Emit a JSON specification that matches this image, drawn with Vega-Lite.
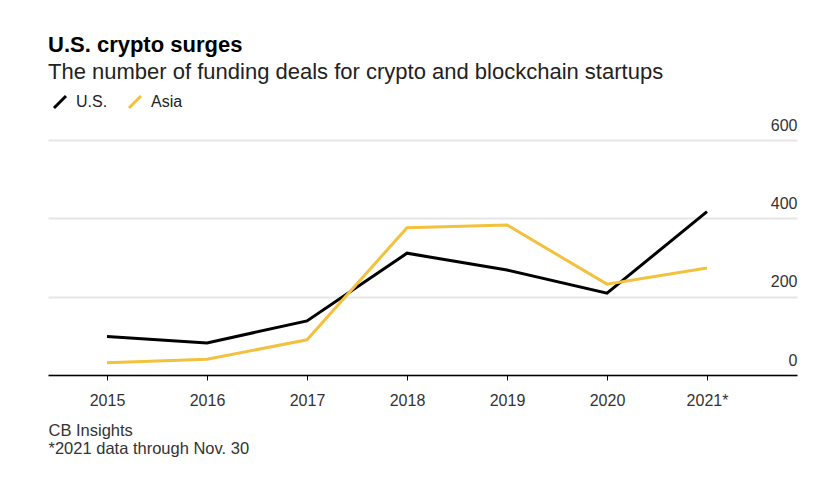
{
  "$schema": "https://vega.github.io/schema/vega-lite/v6.json",
  "width": 749,
  "height": 235,
  "autosize": {"type": "none"},
  "padding": {"left": 48, "top": 140, "right": 35, "bottom": 103},
  "background": "white",
  "title": {
    "text": "U.S. crypto surges",
    "subtitle": "The number of funding deals for crypto and blockchain startups",
    "anchor": "start",
    "frame": "group",
    "font": "Liberation Sans",
    "fontSize": 22,
    "fontWeight": "bold",
    "color": "#000000",
    "subtitleFont": "Liberation Sans",
    "subtitleFontSize": 22,
    "subtitleColor": "#222222",
    "subtitlePadding": 5,
    "offset": 10
  },
  "config": {
    "view": {"stroke": null},
    "font": "Liberation Sans"
  },
  "data": {
    "values": [
      {"year": 2015, "region": "U.S.", "deals": 98},
      {"year": 2016, "region": "U.S.", "deals": 82},
      {"year": 2017, "region": "U.S.", "deals": 138},
      {"year": 2018, "region": "U.S.", "deals": 311},
      {"year": 2019, "region": "U.S.", "deals": 268},
      {"year": 2020, "region": "U.S.", "deals": 209},
      {"year": 2021, "region": "U.S.", "deals": 417},
      {"year": 2015, "region": "Asia", "deals": 31},
      {"year": 2016, "region": "Asia", "deals": 40},
      {"year": 2017, "region": "Asia", "deals": 90},
      {"year": 2018, "region": "Asia", "deals": 376},
      {"year": 2019, "region": "Asia", "deals": 383},
      {"year": 2020, "region": "Asia", "deals": 232},
      {"year": 2021, "region": "Asia", "deals": 273}
    ]
  },
  "mark": {"type": "line", "strokeWidth": 3, "strokeJoin": "miter"},
  "encoding": {
    "x": {
      "field": "year",
      "type": "quantitative",
      "scale": {"domain": [2014.41, 2021.9], "nice": false, "zero": false},
      "axis": {
        "values": [2015, 2016, 2017, 2018, 2019, 2020, 2021],
        "labelExpr": "datum.value == 2021 ? '2021*' : datum.value",
        "grid": false,
        "domainColor": "#000000",
        "domainWidth": 1.5,
        "tickColor": "#000000",
        "tickSize": 5,
        "tickWidth": 1,
        "labelFontSize": 16,
        "labelColor": "#333333",
        "labelPadding": 12,
        "labelFlush": false,
        "title": ["CB Insights", "*2021 data through Nov. 30"],
        "titleAnchor": "start",
        "titleAlign": "left",
        "titleFontWeight": "normal",
        "titleFontSize": 16.5,
        "titleColor": "#333333",
        "titleLineHeight": 18,
        "titlePadding": 14
      }
    },
    "y": {
      "field": "deals",
      "type": "quantitative",
      "scale": {"domain": [0, 600], "nice": false},
      "axis": {
        "orient": "right",
        "values": [0, 200, 400, 600],
        "grid": true,
        "gridColor": "#e6e6e6",
        "gridWidth": 2,
        "domain": false,
        "ticks": false,
        "labelAlign": "right",
        "labelBaseline": "alphabetic",
        "labelPadding": 0,
        "labelOffset": -10,
        "labelFontSize": 16,
        "labelColor": "#333333",
        "title": null
      }
    },
    "color": {
      "field": "region",
      "type": "nominal",
      "scale": {"domain": ["U.S.", "Asia"], "range": ["#000000", "#f2c13d"]},
      "legend": {
        "title": null,
        "orient": "none",
        "direction": "horizontal",
        "legendX": 4,
        "legendY": -46,
        "symbolType": "M-1,1L1,-1",
        "symbolSize": 144,
        "symbolStrokeWidth": 3,
        "labelFontSize": 16,
        "labelColor": "#222222",
        "labelOffset": 8,
        "columnPadding": 15,
        "padding": 0
      }
    }
  }
}
